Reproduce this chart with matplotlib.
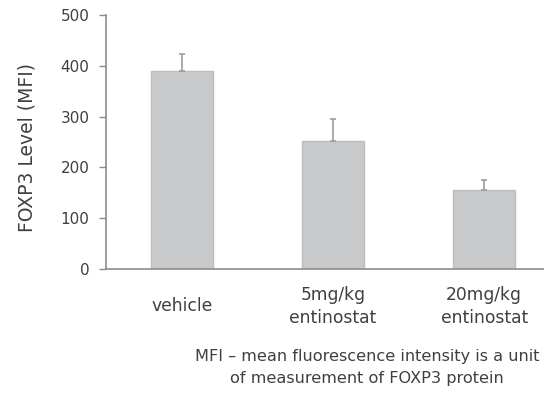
import matplotlib
matplotlib.use('Agg')
import matplotlib.pyplot as plt

plt.rcParams['font.family'] = ['DejaVu Sans']

categories = ['vehicle', '5mg/kg\nentinostat', '20mg/kg\nentinostat']
values = [389, 251, 155]
errors = [34, 44, 20]

fig = plt.figure(figsize=(5.44, 4.0), dpi=100)
ax = fig.add_axes([0.195, 0.3275, 0.834, 0.635])

x = list(range(len(categories)))
ax.bar(x, values, width=0.41, color='#c8c9cb', edgecolor='#bcbdbf', linewidth=1,
       yerr=[[0] * len(errors), errors],
       error_kw=dict(ecolor='#9c9c9c', elinewidth=1.2, capsize=2.3, capthick=1.2))

ax.set_xlim(-0.5, 2.5)
ax.set_ylim(0, 500)
ax.set_yticks([0, 100, 200, 300, 400, 500])
ax.set_xticks(x)
ax.set_xticklabels([])
ax.tick_params(axis='x', length=0)
ax.tick_params(axis='y', length=5, width=1, color='#8c8c8c', labelsize=11,
               labelcolor='#404040', pad=7)
for s in ['top', 'right']:
    ax.spines[s].set_visible(False)
for s in ['left', 'bottom']:
    ax.spines[s].set_color('#8c8c8c')
    ax.spines[s].set_linewidth(1.2)

# category labels centred vertically like the original
for xi, lab in zip(x, categories):
    ax.text(xi, -0.146, lab, transform=ax.get_xaxis_transform(), ha='center', va='center',
            fontsize=12.3, color='#404040', linespacing=1.35)

ax.set_ylabel('FOXP3 Level (MFI)', fontsize=13.5, color='#404040')
ax.yaxis.set_label_coords(-0.153, 0.48)

fig.text(0.675, 0.081, 'MFI \u2013 mean fluorescence intensity is a unit\nof measurement of FOXP3 protein',
         ha='center', va='center', fontsize=11.6, color='#404040', linespacing=1.6)

fig.savefig('out.png', dpi=100, facecolor='white')
